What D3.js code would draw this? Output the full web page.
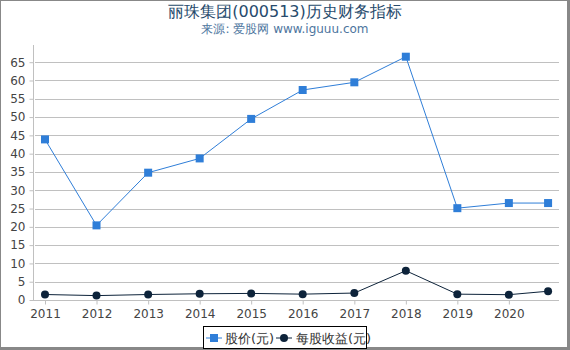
<!DOCTYPE html>
<html>
<head>
<meta charset="utf-8" />
<script src="https://d3js.org/d3.v7.min.js"></script>
<style>
  body { margin: 0; background: #fff; }
  svg { font-family: "DejaVu Sans", sans-serif; display: block; }
  .grid line { stroke: #c0c0c0; stroke-width: 1px; }
</style>
</head>
<body>
<svg></svg>
<script>
// data
var dates = ['2011-01-01', '2012-01-01', '2013-01-01', '2014-01-01', '2015-01-01', '2016-01-01',
  '2017-01-01', '2018-01-01', '2019-01-01', '2020-01-01', '2020-10-05'];
var price = [43.9, 20.4, 34.8, 38.7, 49.5, 57.4, 59.5, 66.5, 25.1, 26.5, 26.5];
var eps = [1.5, 1.2, 1.5, 1.7, 1.8, 1.6, 1.9, 8.0, 1.6, 1.45, 2.4];
var yTicks = [0, 5, 10, 15, 20, 25, 30, 35, 40, 45, 50, 55, 60, 65];
var xTickYears = [2011, 2012, 2013, 2014, 2015, 2016, 2017, 2018, 2019, 2020];

var width = 570, height = 350;
var parse = d3.timeParse('%Y-%m-%d');
var pts = dates.map(function (d, i) { return { date: parse(d), price: price[i], eps: eps[i] }; });

var svg = d3.select('svg').attr('width', width).attr('height', height);

// frame
svg.append('rect').attr('x', 0.5).attr('y', 0.5).attr('width', width - 3).attr('height', height - 3)
  .attr('fill', '#fff').attr('stroke', '#888').attr('stroke-width', 1);
svg.append('rect').attr('x', width - 3).attr('y', 0).attr('width', 3).attr('height', height).attr('fill', '#888');
svg.append('rect').attr('x', 0).attr('y', height - 3).attr('width', width).attr('height', 3).attr('fill', '#888');

var x = d3.scaleTime()
  .domain([parse('2011-01-01'), parse('2021-01-01')])
  .range([45, 560.5]);
var y = d3.scaleLinear().domain([0, 69.7]).range([300, 45]);

var left = 33, right = 559;

// gridlines
svg.append('g').attr('class', 'grid')
  .selectAll('line').data(yTicks.slice(1)).enter().append('line')
  .attr('x1', left + 2).attr('x2', right)
  .attr('y1', function (d) { return Math.round(y(d)) + 0.5; })
  .attr('y2', function (d) { return Math.round(y(d)) + 0.5; });

// y axis
var yAxis = svg.append('g')
  .attr('transform', 'translate(' + (left + 0.5) + ',0)')
  .call(d3.axisLeft(y).tickValues(yTicks).tickSize(4).tickPadding(4))
  .attr('font-family', '"DejaVu Sans", sans-serif').attr('font-size', 12);
yAxis.select('.domain').attr('stroke', '#c0c0c0').attr('d', 'M0,' + y.range()[1] + 'V' + (y(0) + 0.5));
yAxis.selectAll('.tick line').attr('stroke', '#c0c0c0');
yAxis.selectAll('.tick text').attr('fill', '#444');

// x axis
var xAxis = svg.append('g')
  .attr('transform', 'translate(0,' + (Math.round(y(0)) + 0.5) + ')')
  .call(d3.axisBottom(x)
    .tickValues(xTickYears.map(function (yr) { return new Date(yr, 0, 1); }))
    .tickFormat(d3.timeFormat('%Y')).tickSize(4).tickPadding(5))
  .attr('font-family', '"DejaVu Sans", sans-serif').attr('font-size', 12);
xAxis.select('.domain').attr('stroke', '#c0c0c0').attr('d', 'M' + left + ',0H' + right);
xAxis.selectAll('.tick line').attr('stroke', '#c0c0c0');
xAxis.selectAll('.tick text').attr('fill', '#444');

// lines
var linePrice = d3.line().x(function (d) { return x(d.date); }).y(function (d) { return y(d.price); });
var lineEps = d3.line().x(function (d) { return x(d.date); }).y(function (d) { return y(d.eps); });

svg.append('path').datum(pts).attr('d', linePrice)
  .attr('fill', 'none').attr('stroke', '#2f7ed8').attr('stroke-width', 1);
svg.append('path').datum(pts).attr('d', lineEps)
  .attr('fill', 'none').attr('stroke', '#0d233a').attr('stroke-width', 1);

svg.append('g').selectAll('rect').data(pts).enter().append('rect')
  .attr('x', function (d) { return x(d.date) - 4; })
  .attr('y', function (d) { return y(d.price) - 4; })
  .attr('width', 8).attr('height', 8).attr('fill', '#2f7ed8');

svg.append('g').selectAll('circle').data(pts).enter().append('circle')
  .attr('cx', function (d) { return x(d.date); })
  .attr('cy', function (d) { return y(d.eps); })
  .attr('r', 4).attr('fill', '#0d233a');

// title
svg.append('text').attr('x', 285).attr('y', 17).attr('text-anchor', 'middle')
  .attr('fill', '#274b6d').style('font-size', '16px').text('丽珠集团(000513)历史财务指标');
svg.append('text').attr('x', 285).attr('y', 33).attr('text-anchor', 'middle')
  .attr('fill', '#4d759e').style('font-size', '12px').text('来源: 爱股网 www.iguuu.com');

// legend
var lg = svg.append('g');
lg.append('rect').attr('x', 203.5).attr('y', 326.5).attr('width', 163).attr('height', 22)
  .attr('fill', '#fff').attr('stroke', '#000').attr('stroke-width', 1);
lg.append('line').attr('x1', 206).attr('x2', 222).attr('y1', 338).attr('y2', 338)
  .attr('stroke', '#2f7ed8').attr('stroke-width', 1);
lg.append('rect').attr('x', 210).attr('y', 334).attr('width', 8).attr('height', 8).attr('fill', '#2f7ed8');
lg.append('text').attr('x', 225).attr('y', 343).attr('fill', '#333').style('font-size', '13px').text('股价(元)');
lg.append('line').attr('x1', 276).attr('x2', 292).attr('y1', 338).attr('y2', 338)
  .attr('stroke', '#0d233a').attr('stroke-width', 1);
lg.append('circle').attr('cx', 284).attr('cy', 338).attr('r', 4).attr('fill', '#0d233a');
lg.append('text').attr('x', 296).attr('y', 343).attr('fill', '#333').style('font-size', '13px').text('每股收益(元)');
</script>
</body>
</html>
